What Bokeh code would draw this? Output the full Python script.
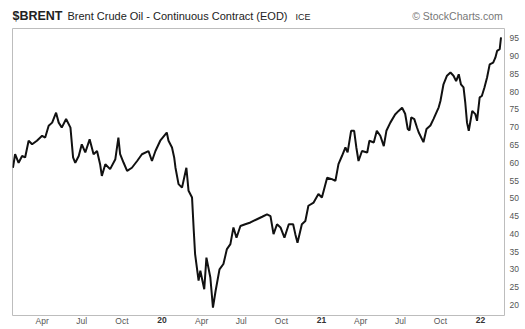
import pandas as pd
from bokeh.plotting import figure
from bokeh.models import ColumnDataSource, Range1d, LinearAxis, FixedTicker
from bokeh.embed import file_html
from bokeh.resources import INLINE

# ---- data ($BRENT, approx. closes) ----
dates = [
    "2019-01-24", "2019-01-29", "2019-02-06", "2019-02-14", "2019-02-21", "2019-03-01",
    "2019-03-09", "2019-03-20", "2019-04-01", "2019-04-08", "2019-04-16", "2019-04-24",
    "2019-05-03", "2019-05-09", "2019-05-16", "2019-05-26", "2019-06-05", "2019-06-11",
    "2019-06-16", "2019-06-24", "2019-07-01", "2019-07-09", "2019-07-19", "2019-07-28",
    "2019-08-05", "2019-08-12", "2019-08-16", "2019-08-24", "2019-09-04", "2019-09-16",
    "2019-09-23", "2019-09-27", "2019-10-05", "2019-10-13", "2019-10-24", "2019-11-05",
    "2019-11-16", "2019-12-01", "2019-12-09", "2019-12-17", "2019-12-28", "2020-01-12",
    "2020-01-16", "2020-01-24", "2020-01-29", "2020-02-01", "2020-02-08", "2020-02-16",
    "2020-02-26", "2020-03-02", "2020-03-10", "2020-03-14", "2020-03-17", "2020-03-25",
    "2020-03-29", "2020-04-07", "2020-04-12", "2020-04-21", "2020-04-27", "2020-05-03",
    "2020-05-12", "2020-05-21", "2020-05-29", "2020-06-06", "2020-06-13", "2020-06-20",
    "2020-06-29", "2020-07-10", "2020-07-22", "2020-08-06", "2020-08-18", "2020-08-29",
    "2020-09-06", "2020-09-13", "2020-09-21", "2020-09-29", "2020-10-08", "2020-10-18",
    "2020-10-28", "2020-11-02", "2020-11-07", "2020-11-17", "2020-11-25", "2020-12-02",
    "2020-12-14", "2020-12-25", "2021-01-02", "2021-01-14", "2021-01-25", "2021-02-02",
    "2021-02-09", "2021-02-17", "2021-02-25", "2021-03-02", "2021-03-10", "2021-03-17",
    "2021-03-22", "2021-03-27", "2021-04-04", "2021-04-16", "2021-04-21", "2021-05-01",
    "2021-05-08", "2021-05-16", "2021-05-24", "2021-05-30", "2021-06-08", "2021-06-19",
    "2021-06-27", "2021-07-05", "2021-07-12", "2021-07-18", "2021-07-22", "2021-07-26",
    "2021-08-02", "2021-08-08", "2021-08-12", "2021-08-23", "2021-08-30", "2021-09-08",
    "2021-09-15", "2021-09-27", "2021-10-01", "2021-10-08", "2021-10-16", "2021-10-24",
    "2021-10-31", "2021-11-06", "2021-11-12", "2021-11-17", "2021-11-23", "2021-11-27",
    "2021-12-01", "2021-12-05", "2021-12-13", "2021-12-20", "2021-12-24", "2021-12-30",
    "2022-01-04", "2022-01-10", "2022-01-16", "2022-01-22", "2022-01-30", "2022-02-04",
    "2022-02-08", "2022-02-14", "2022-02-17",
]
closes = [
    58.6, 62.4, 60.0, 61.9, 61.5, 66.2,
    65.2, 66.2, 67.6, 67.1, 70.4, 71.3,
    74.1, 71.3, 69.9, 72.3, 69.9, 61.5,
    60.0, 61.9, 65.2, 62.9, 66.6, 62.4,
    63.3, 59.6, 56.3, 59.6, 58.2, 61.0,
    67.1, 62.4, 60.0, 57.7, 58.6, 60.5,
    62.4, 63.3, 60.5, 63.3, 66.2, 68.5,
    66.2, 64.3, 61.5, 58.6, 54.0, 53.0,
    58.6, 52.1, 50.2, 40.8, 34.3, 26.8,
    29.6, 24.4, 33.3, 27.7, 19.2, 23.9,
    30.0, 31.5, 35.7, 37.1, 41.8, 38.9,
    42.2, 42.7, 43.2, 44.1, 44.8, 45.5,
    45.0, 39.9, 42.7, 41.8, 38.9, 42.7,
    42.7, 39.9, 37.5, 42.7, 43.6, 47.9,
    48.8, 51.2, 50.2, 55.8, 55.4, 54.9,
    59.6, 61.9, 64.3, 62.9, 69.0, 69.0,
    64.3, 60.5, 63.3, 62.9, 66.2, 65.7,
    69.0, 67.6, 64.7, 69.0, 71.3, 73.6,
    74.6, 75.5, 73.8, 69.5, 69.1, 72.8,
    72.3, 70.0, 68.6, 65.8, 69.5, 70.5,
    72.3, 75.6, 77.4, 82.1, 84.5, 85.4,
    84.5, 83.0, 84.9, 82.1, 81.2, 76.9,
    71.3, 69.0, 74.6, 73.7, 71.8, 78.4,
    78.8, 81.2, 84.0, 87.7, 88.2, 89.6,
    91.5, 92.0, 95.3,
]

month_ticks = ["2019-04-01", "2019-07-01", "2019-10-01",
               "2020-04-01", "2020-07-01", "2020-10-01",
               "2021-04-01", "2021-07-01", "2021-10-01"]
month_labels = ["Apr", "Jul", "Oct", "Apr", "Jul", "Oct", "Apr", "Jul", "Oct"]
year_ticks = ["2020-01-01", "2021-01-01", "2022-01-01"]
year_labels = ["20", "21", "22"]
y_ticks = [20, 25, 30, 35, 40, 45, 50, 55, 60, 65, 70, 75, 80, 85, 90, 95]

symbol_text = "$BRENT"
name_text = "Brent Crude Oil - Continuous Contract (EOD)"
exchange_text = "ICE"
credit_text = "\u00a9 StockCharts.com"

x_start, x_end = "2019-01-23", "2022-02-25"
y_start, y_end = 17.0, 97.8


def ms(s):
    return pd.Timestamp(s).value / 1e6


src = ColumnDataSource(dict(date=[ms(d) for d in dates], close=closes))

p = figure(width=525, height=329, output_backend="svg", toolbar_location=None,
           x_axis_type=None, y_axis_location="right",
           x_range=Range1d(ms(x_start), ms(x_end)),
           y_range=Range1d(y_start, y_end),
           min_border_left=12, min_border_right=21,
           min_border_top=28, min_border_bottom=14)
p.background_fill_color = "white"
p.border_fill_color = "white"
p.outline_line_color = "#bdbdbd"
p.outline_line_width = 1
p.xgrid.visible = False
p.ygrid.visible = False
# pixel-like range used only to place the header texts along the top
p.extra_x_ranges["hdr"] = Range1d(0, 492)

p.line("date", "close", source=src, line_color="#111111", line_width=2)


def plain(ax, size, color, standoff, bold=False):
    ax.axis_line_color = None
    ax.major_tick_line_color = None
    ax.minor_tick_line_color = None
    ax.major_tick_in = 0
    ax.major_tick_out = 0
    ax.major_label_text_font = "Liberation Sans"
    ax.major_label_text_font_size = size
    ax.major_label_text_color = color
    ax.major_label_standoff = standoff
    if bold:
        ax.major_label_text_font_style = "bold"
    return ax


# y axis (right)
ya = p.yaxis[0]
ya.ticker = FixedTicker(ticks=y_ticks, minor_ticks=[])
plain(ya, "8.5px", "#555555", 5)

# month axis and bold year axis sharing one line below the frame
m_axis = LinearAxis(
    ticker=FixedTicker(ticks=[ms(t) for t in month_ticks], minor_ticks=[]),
    major_label_overrides={ms(t): l for t, l in zip(month_ticks, month_labels)})
yr_axis = LinearAxis(
    ticker=FixedTicker(ticks=[ms(t) for t in year_ticks], minor_ticks=[]),
    major_label_overrides={ms(t): l for t, l in zip(year_ticks, year_labels)})
plain(m_axis, "8.5px", "#555555", 0)
plain(yr_axis, "8.5px", "#333333", -12, bold=True)
p.add_layout(m_axis, "below")
p.add_layout(yr_axis, "below")

# header line above the frame (texts placed on one baseline)
header = [
    (exchange_text, 290.5, "9px", "#222222", 7, False),
    (credit_text, 445, "10.5px", "#777777", -13, False),
    (name_text, 165, "11px", "#222222", -15, False),
    (symbol_text, 25, "12.5px", "#222222", -16, True),
]
for text, pos, size, color, standoff, bold in header:
    ax = LinearAxis(x_range_name="hdr",
                    ticker=FixedTicker(ticks=[pos], minor_ticks=[]),
                    major_label_overrides={pos: text})
    plain(ax, size, color, standoff, bold)
    p.add_layout(ax, "above")

with open("out.html", "w", encoding="utf-8") as f:
    f.write(file_html(p, INLINE))
